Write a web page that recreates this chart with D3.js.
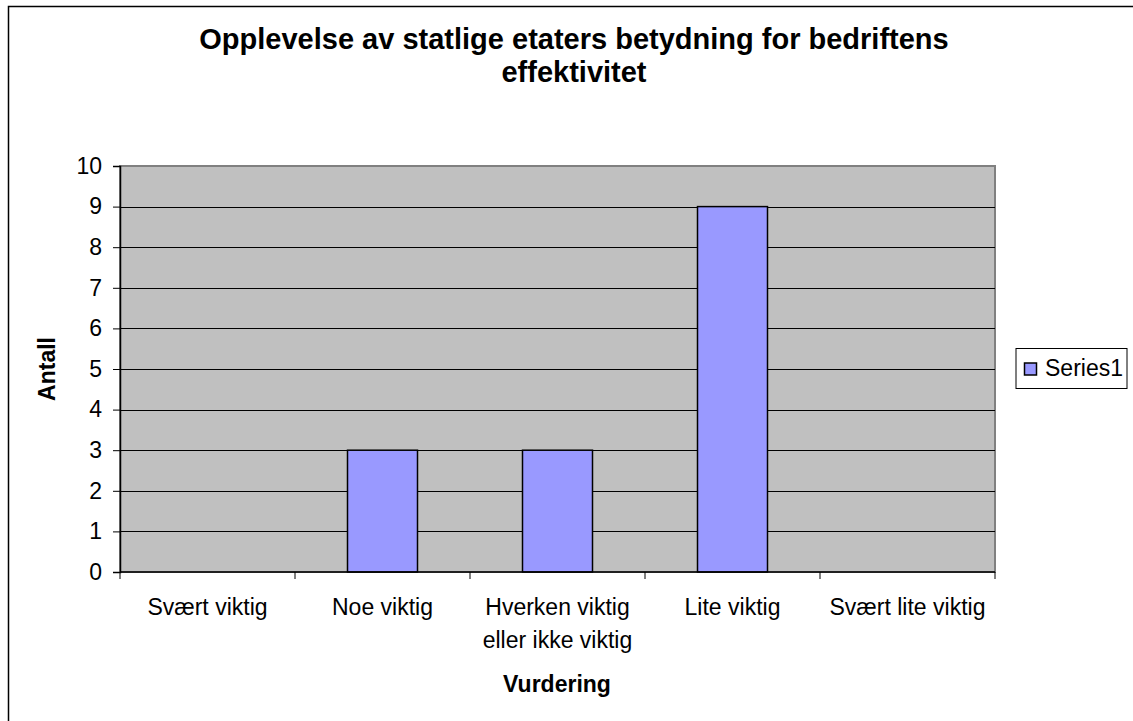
<!DOCTYPE html>
<html>
<head>
<meta charset="utf-8">
<script src="https://cdn.jsdelivr.net/npm/d3@7"></script>
<style>
  html, body { margin: 0; padding: 0; background: #fff; }
  svg { display: block; font-family: "Liberation Sans", Arial, sans-serif; }
</style>
</head>
<body>
<svg id="chart" width="1133" height="721"></svg>
<script>
// Chart data
const categories = [
  "Svært viktig",
  "Noe viktig",
  "Hverken viktig\neller ikke viktig",
  "Lite viktig",
  "Svært lite viktig"
];
const values = [0, 3, 3, 9, 0];
const yTicks = [0, 1, 2, 3, 4, 5, 6, 7, 8, 9, 10];
const seriesName = "Series1";
const titleLines = ["Opplevelse av statlige etaters betydning for bedriftens", "effektivitet"];
const xTitle = "Vurdering";
const yTitle = "Antall";

const FONT = "'Liberation Sans', Arial, sans-serif";
const svg = d3.select("#chart");

// Outer chart frame (continues past the right and bottom edges)
svg.append("rect")
  .attr("x", 8.5).attr("y", 6.5)
  .attr("width", 1140).attr("height", 730)
  .attr("fill", "#fff").attr("stroke", "#000").attr("stroke-width", 1.5);

const plot = { left: 120, top: 166, right: 995, bottom: 572 };

const x = d3.scaleBand()
  .domain(categories)
  .range([plot.left, plot.right])
  .paddingInner(0.6).paddingOuter(0.3);

const xOuter = d3.scaleBand()
  .domain(categories)
  .range([plot.left, plot.right]);

const y = d3.scaleLinear()
  .domain([0, 10])
  .range([plot.bottom, plot.top]);

// Plot area background
svg.append("rect")
  .attr("x", plot.left).attr("y", plot.top)
  .attr("width", plot.right - plot.left).attr("height", plot.bottom - plot.top)
  .attr("fill", "#c0c0c0").attr("stroke", "#808080").attr("stroke-width", 2);

// Gridlines
svg.append("g")
  .selectAll("line")
  .data(yTicks.filter(d => d > 0 && d < 10))
  .join("line")
  .attr("x1", plot.left).attr("x2", plot.right)
  .attr("y1", d => Math.round(y(d)) + 0.5).attr("y2", d => Math.round(y(d)) + 0.5)
  .attr("stroke", "#000").attr("stroke-width", 1);

// Bars
svg.append("g")
  .selectAll("rect")
  .data(categories.map((c, i) => ({ c, v: values[i] })).filter(d => d.v > 0))
  .join("rect")
  .attr("x", d => x(d.c))
  .attr("y", d => y(d.v))
  .attr("width", x.bandwidth())
  .attr("height", d => y(0) - y(d.v))
  .attr("fill", "#9999ff")
  .attr("stroke", "#000").attr("stroke-width", 1.5);

// Y axis
const yAxis = svg.append("g")
  .attr("transform", `translate(${plot.left},0)`)
  .call(d3.axisLeft(y).tickValues(yTicks).tickSize(7).tickPadding(11).tickFormat(d3.format("d")));
yAxis.select(".domain").attr("stroke", "#000").attr("stroke-width", 1.5);
yAxis.selectAll(".tick line").attr("stroke", "#000");
yAxis.selectAll(".tick text")
  .attr("font-size", 23).attr("fill", "#000")
  .attr("font-family", FONT);

// X axis line and category tick marks at band boundaries
const xg = svg.append("g");
xg.append("line")
  .attr("x1", plot.left).attr("x2", plot.right)
  .attr("y1", plot.bottom).attr("y2", plot.bottom)
  .attr("stroke", "#000").attr("stroke-width", 1.5);
const bounds = categories.map(c => xOuter(c)).concat([xOuter.range()[1]]);
xg.selectAll("line.tk")
  .data(bounds)
  .join("line")
  .attr("class", "tk")
  .attr("x1", d => d).attr("x2", d => d)
  .attr("y1", plot.bottom).attr("y2", plot.bottom + 7)
  .attr("stroke", "#000").attr("stroke-width", 1);

// Category labels
xg.selectAll("text.cat")
  .data(categories)
  .join("text")
  .attr("class", "cat")
  .attr("x", d => xOuter(d) + xOuter.bandwidth() / 2)
  .attr("y", 615)
  .attr("text-anchor", "middle")
  .attr("font-size", 23)
  .each(function(d) {
    const lines = d.split("\n");
    d3.select(this).selectAll("tspan")
      .data(lines)
      .join("tspan")
      .attr("x", xOuter(d) + xOuter.bandwidth() / 2)
      .attr("dy", (l, i) => i === 0 ? 0 : 33)
      .text(l => l);
  });

// Title
svg.append("text")
  .attr("x", 574).attr("y", 49)
  .attr("text-anchor", "middle")
  .attr("font-size", 29).attr("font-weight", "bold")
  .selectAll("tspan")
  .data(titleLines)
  .join("tspan")
  .attr("x", 574)
  .attr("dy", (d, i) => i === 0 ? 0 : 33)
  .text(d => d);

// Axis titles
svg.append("text")
  .attr("x", 557).attr("y", 692)
  .attr("text-anchor", "middle")
  .attr("font-size", 23).attr("font-weight", "bold")
  .text(xTitle);

svg.append("text")
  .attr("transform", "translate(55,369) rotate(-90)")
  .attr("text-anchor", "middle")
  .attr("font-size", 23).attr("font-weight", "bold")
  .text(yTitle);

// Legend
const lg = svg.append("g");
lg.append("rect")
  .attr("x", 1016).attr("y", 348.5)
  .attr("width", 111).attr("height", 40)
  .attr("fill", "#fff").attr("stroke", "#000").attr("stroke-width", 1);
lg.append("rect")
  .attr("x", 1024.5).attr("y", 363)
  .attr("width", 12).attr("height", 12)
  .attr("fill", "#9999ff").attr("stroke", "#000").attr("stroke-width", 1.5);
lg.append("text")
  .attr("x", 1045).attr("y", 376)
  .attr("font-size", 23)
  .text(seriesName);
</script>
</body>
</html>
